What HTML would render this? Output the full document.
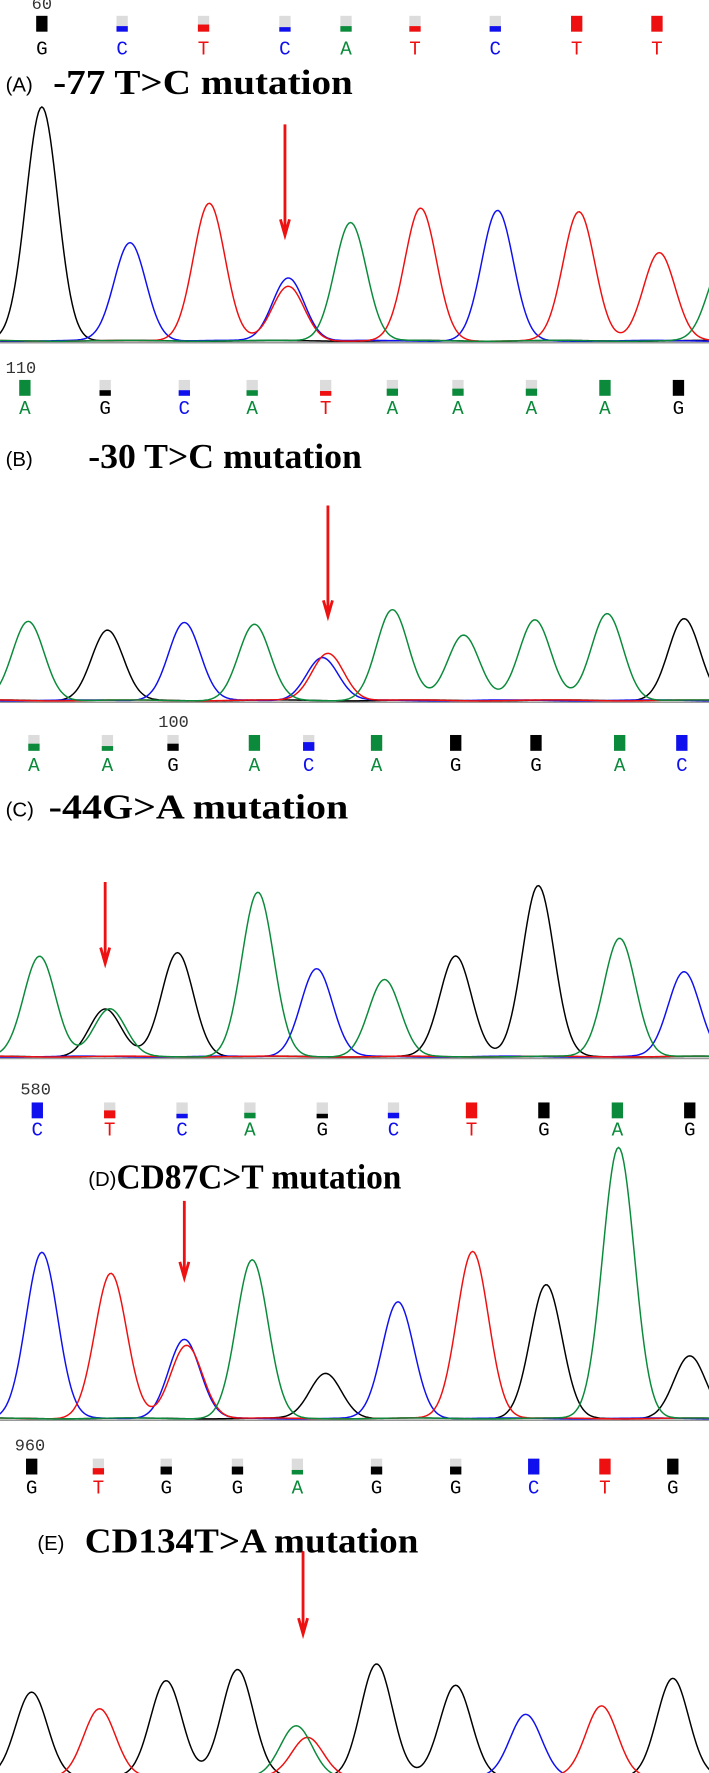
<!DOCTYPE html>
<html><head><meta charset="utf-8"><style>
html,body{margin:0;padding:0;background:#fff;width:709px;height:1773px;overflow:hidden}
svg{display:block}
.mono{font-family:"Liberation Mono",monospace}
</style></head><body>
<svg id="chart" width="709" height="1773" viewBox="0 0 627 1568" xmlns="http://www.w3.org/2000/svg"></svg>
<script>
// Panel A
const basesA=["G","C","T","C","A","T","C","T","T"];
const baseXA=[37,108,180,252,306,367,438,510,581];
const qualA=[1,0.35,0.45,0.2,0.35,0.35,0.35,1,1];
const peakBaseA=["G","C","T","C","T","A","T","C","T","T","A"];
const peakXA=[37,115,185,255,255,310,372,440,512,583,640];
const peakHA=[207,87,122,56,48,105,117,115,114,78,70];
// Panel B
const basesB=["A","G","C","A","T","A","A","A","A","G"];
const baseXB=[22,93,163,223,288,347,405,470,535,600];
const qualB=[1,0.35,0.35,0.35,0.3,0.45,0.45,0.45,1,1];
const peakBaseB=["A","G","C","A","C","T","A","A","A","A","G"];
const peakXB=[25,95,163,225,285,290,347,410,473,537,605];
const peakHB=[70,62,69,67,38,42,80,58,71,77,72];
// Panel C
const basesC=["A","A","G","A","C","A","G","G","A","C"];
const baseXC=[30,95,153,225,273,333,403,474,548,603];
const qualC=[0.45,0.3,0.45,1,0.55,1,1,1,1,1];
const peakBaseC=["A","G","A","G","A","C","A","G","G","A","C"];
const peakXC=[35,93,97,157,228,280,340,403,476,548,605];
const peakHC=[89,42,42,92,145,78,68,89,151,105,75];
// Panel D
const basesD=["C","T","C","A","G","C","T","G","A","G"];
const baseXD=[33,97,161,221,285,348,417,481,546,610];
const qualD=[1,0.5,0.25,0.35,0.2,0.35,1,1,1,1];
const peakBaseD=["C","T","C","T","A","G","C","T","G","A","G"];
const peakXD=[37,98,163,165,223,288,352,418,483,547,610];
const peakHD=[147,128,70,65,140,40,103,148,118,240,55];
// Panel E
const basesE=["G","T","G","G","A","G","G","C","T","G"];
const baseXE=[28,87,147,210,263,333,403,472,535,595];
const qualE=[1,0.4,0.5,0.5,0.25,0.5,0.5,1,1,1];
const peakBaseE=["G","T","G","G","A","T","G","G","C","T","G"];
const peakXE=[28,88,147,210,262,272,333,403,465,532,595];
const peakHE=[75,60,85,95,45,35,100,81,55,63,87];

const COL={A:"#0a8a3a",C:"#1010ee",G:"#000000",T:"#ee1010"};
const svg=document.getElementById('chart');
const NS="http://www.w3.org/2000/svg";
function mk(tag,attrs,parent){const e=document.createElementNS(NS,tag);for(const k in attrs)e.setAttribute(k,attrs[k]);(parent||svg).appendChild(e);return e;}

const panels=[
 {id:"a",label:"(A)",title:"-77 T>C mutation",tw:265,lx:5,tx:47,ty:83,num:"60",numX:28,numY:8,sqY:14,letY:48,bases:basesA,bx:baseXA,q:qualA,pb:peakBaseA,px:peakXA,ph:peakHA,base:302,arrow:[252,110,208],axis:true},
 {id:"b",label:"(B)",title:"-30 T>C mutation",tw:242,lx:5,tx:78,ty:414,num:"110",numX:5,numY:330,sqY:336,letY:366,bases:basesB,bx:baseXB,q:qualB,pb:peakBaseB,px:peakXB,ph:peakHB,base:620,arrow:[290,447,545],axis:true},
 {id:"c",label:"(C)",title:"-44G>A mutation",tw:265,lx:5,tx:43,ty:724,num:"100",numX:140,numY:643,sqY:650,letY:682,bases:basesC,bx:baseXC,q:qualC,pb:peakBaseC,px:peakXC,ph:peakHC,base:935,arrow:[93,780,852],axis:true},
 {id:"d",label:"(D)",title:"CD87C>T mutation",tw:252,lx:78,tx:103,ty:1051,num:"580",numX:18,numY:968,sqY:975,letY:1004,bases:basesD,bx:baseXD,q:qualD,pb:peakBaseD,px:peakXD,ph:peakHD,base:1255,arrow:[163,1062,1130],axis:true},
 {id:"e",label:"(E)",title:"CD134T>A mutation",tw:295,lx:33,tx:75,ty:1373,num:"960",numX:13,numY:1283,sqY:1290,letY:1321,bases:basesE,bx:baseXE,q:qualE,pb:peakBaseE,px:peakXE,ph:peakHE,base:1572,arrow:[268,1372,1445],axis:false}
];

panels.forEach(p=>{
 const g=mk('g',{});
 
 
 const n=mk('text',{x:p.numX,y:p.numY,'font-size':15,class:'mono',fill:'#333'},g);
 n.textContent=p.num;
 
 
 p.bases.forEach((b,i)=>{
  const x=p.bx[i];
  const bg=mk('rect',{x:x-5,y:p.sqY,width:10,height:14,fill:'#dcdcdc'},g);
  
  
  const h=14*p.q[i];
  const qb=mk('rect',{x:x-5,y:p.sqY+14-Math.max(h,4),width:10,height:Math.max(h,4),fill:COL[b]},g);
  
  
  const t=mk('text',{x:x,y:p.letY,'text-anchor':'middle','font-size':17,class:'mono',fill:COL[b]},g);
  t.textContent=b;
  
  
 });
 const lb=mk('text',{x:p.lx,y:p.ty-2,'font-size':18,'font-family':'Liberation Sans, sans-serif',fill:'#000'},g);
 lb.textContent=p.label;
 
 
 const tt=mk('text',{x:p.tx,y:p.ty,'font-size':31,'font-weight':'bold','font-family':'Liberation Serif, serif',fill:'#000',textLength:p.tw,lengthAdjust:'spacingAndGlyphs'},g);
 tt.textContent=p.title;
 
 
 if(p.axis){
  const ax=mk('line',{x1:0,x2:627,y1:p.base+1,y2:p.base+1,stroke:'#999','stroke-width':1.5},g);
  
  
 }
 ["G","C","T","A"].forEach(c=>{
  let d="";
  for(let x=-5;x<=632;x+=1.5){
   let y=0.6+0.4*Math.sin(x*0.05+c.charCodeAt(0));
   p.pb.forEach((b,i)=>{if(b===c){const s=14;y+=p.ph[i]*Math.exp(-((x-p.px[i])**2)/(2*s*s));}});
   d+=(d?"L":"M")+x.toFixed(1)+","+(p.base-y).toFixed(1);
  }
  const path=mk('path',{d:d,fill:'none',stroke:COL[c],'stroke-width':1.3},g);
  
  
 });
 const [ax,y1,y2]=p.arrow;
 const ar=mk('path',{d:`M${ax},${y1}L${ax},${y2}M${ax-4},${y2-14}L${ax},${y2}L${ax+4},${y2-14}`,stroke:'#ee1111','stroke-width':2.5,fill:'none'},g);
 
 
});
</script>
</body></html>
